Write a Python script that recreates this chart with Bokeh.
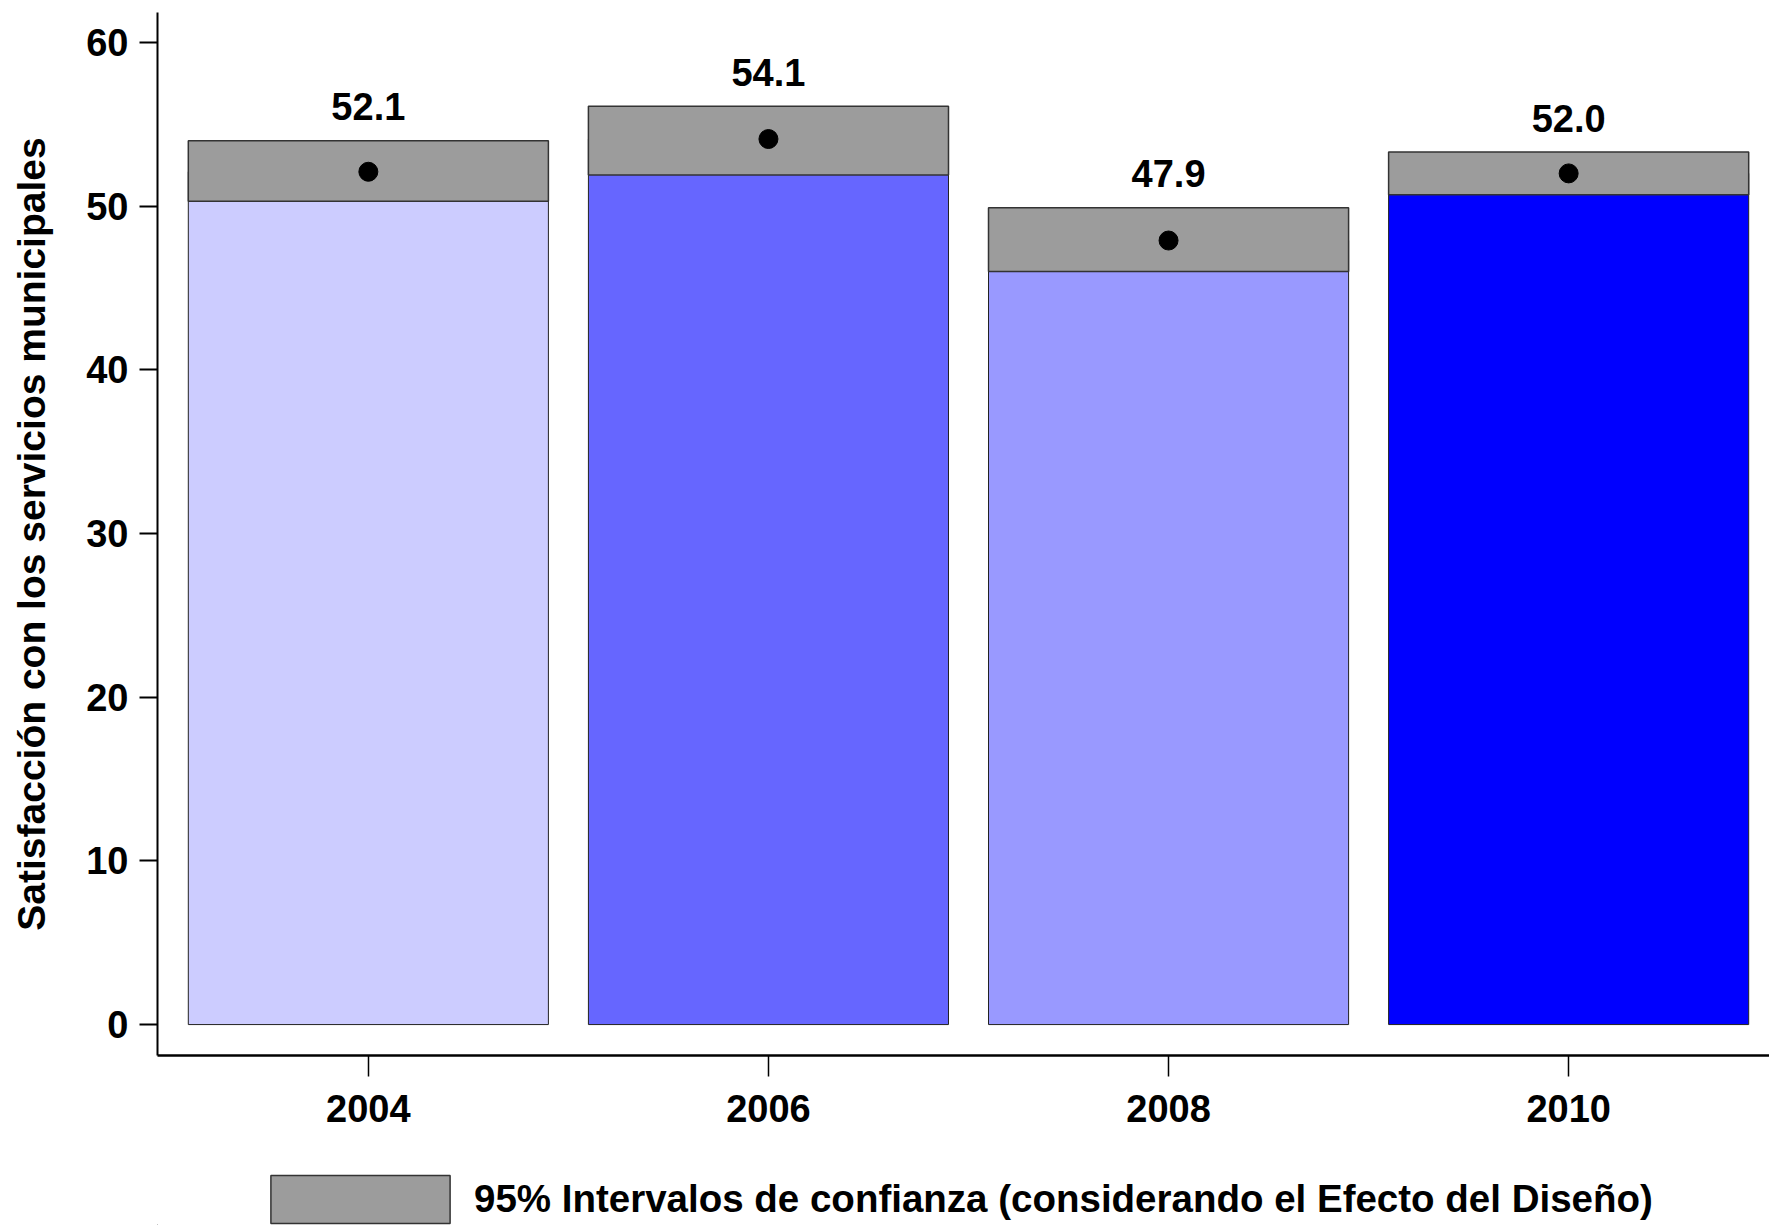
from bokeh.plotting import figure
from bokeh.layouts import column
from bokeh.models import Range1d, FixedTicker, Legend, LegendItem, ColumnDataSource
from bokeh.core.properties import value
from bokeh.embed import file_html
from bokeh.resources import INLINE

years = ["2004", "2006", "2008", "2010"]
means = [52.1, 54.1, 47.9, 52.0]
ci_low = [50.3, 51.9, 46.0, 50.7]
ci_high = [54.0, 56.1, 49.9, 53.3]
bar_colors = ["#CCCCFF", "#6666FF", "#9999FF", "#0000FF"]
y_ticks = [0, 10, 20, 30, 40, 50, 60]
y_title = "Satisfacción con los servicios municipales"
legend_label = "95% Intervalos de confianza (considerando el Efecto del Diseño)"

idx = list(range(len(years)))
src = ColumnDataSource(dict(x=idx, mean=means, lo=ci_low, hi=ci_high, color=bar_colors,
                            lab=["%.1f" % m for m in means]))

FONT = "Liberation Sans"
CI_FILL = "#9C9C9C"
CI_LINE = "#333333"

p = figure(width=1769, height=1165, output_backend="svg", toolbar_location=None,
           x_range=Range1d(-0.527, 3.502), y_range=Range1d(-1.89, 61.83),
           min_border_left=157, min_border_top=12, min_border_right=0, min_border_bottom=110)
p.outline_line_color = None
p.xgrid.visible = False
p.ygrid.visible = False

p.vbar(x="x", top="mean", bottom=0, width=0.9, source=src, fill_color="color",
       line_color="#222222", line_width=1)
p.vbar(x="x", top="hi", bottom="lo", width=0.9, source=src, fill_color=CI_FILL,
       line_color=CI_LINE, line_width=1.5)
p.scatter(x="x", y="mean", source=src, size=19, fill_color="black", line_color="black")
p.text(x="x", y="hi", text="lab", source=src, y_offset=-34, text_align="center",
       text_baseline="alphabetic", text_font=value(FONT), text_font_style="bold",
       text_font_size="38px", text_color="black")

# y axis
yax = p.yaxis[0]
yax.ticker = FixedTicker(ticks=y_ticks)
yax.minor_tick_line_color = None
yax.major_tick_in = 0
yax.major_tick_out = 18
yax.major_tick_line_width = 2
yax.axis_line_width = 2
yax.major_label_standoff = 11
yax.major_label_text_font = FONT
yax.major_label_text_font_style = "bold"
yax.major_label_text_font_size = "38px"
yax.major_label_text_color = "black"
yax.axis_label = y_title
yax.axis_label_text_font = FONT
yax.axis_label_text_font_style = "bold"
yax.axis_label_text_font_size = "39px"
yax.axis_label_text_color = "black"
yax.axis_label_standoff = 30

# x axis
xax = p.xaxis[0]
xax.ticker = FixedTicker(ticks=idx)
xax.major_label_overrides = {i: y for i, y in zip(idx, years)}
xax.minor_tick_line_color = None
xax.major_tick_in = 0
xax.major_tick_out = 21
xax.major_tick_line_width = 1.5
xax.axis_line_width = 2.5
xax.major_label_standoff = 18
xax.major_label_text_font = FONT
xax.major_label_text_font_style = "bold"
xax.major_label_text_font_size = "38px"
xax.major_label_text_color = "black"

# legend strip underneath (its sample glyph kept outside the visible ranges)
lg = figure(width=1769, height=60, output_backend="svg", toolbar_location=None,
            x_range=Range1d(100, 101), y_range=Range1d(100, 101),
            x_axis_location=None, y_axis_location=None,
            min_border_left=0, min_border_top=0, min_border_right=0, min_border_bottom=0)
lg.outline_line_color = None
lg.xgrid.visible = False
lg.ygrid.visible = False
ci_key = lg.vbar(x="x", top="hi", bottom="lo", width=0.9, source=src, fill_color=CI_FILL,
                 line_color=CI_LINE, line_width=1.5)
legend = Legend(items=[LegendItem(label=legend_label, renderers=[ci_key])],
                location=(91, -4), glyph_width=224, glyph_height=60,
                padding=0, margin=0, border_line_alpha=0, background_fill_alpha=0,
                label_standoff=2, label_text_font=FONT, label_text_font_style="bold",
                label_text_font_size="38.5px", label_text_color="black")
lg.add_layout(legend, "center")

layout = column(p, lg, spacing=0)
open("out.html", "w").write(file_html(layout, INLINE))
